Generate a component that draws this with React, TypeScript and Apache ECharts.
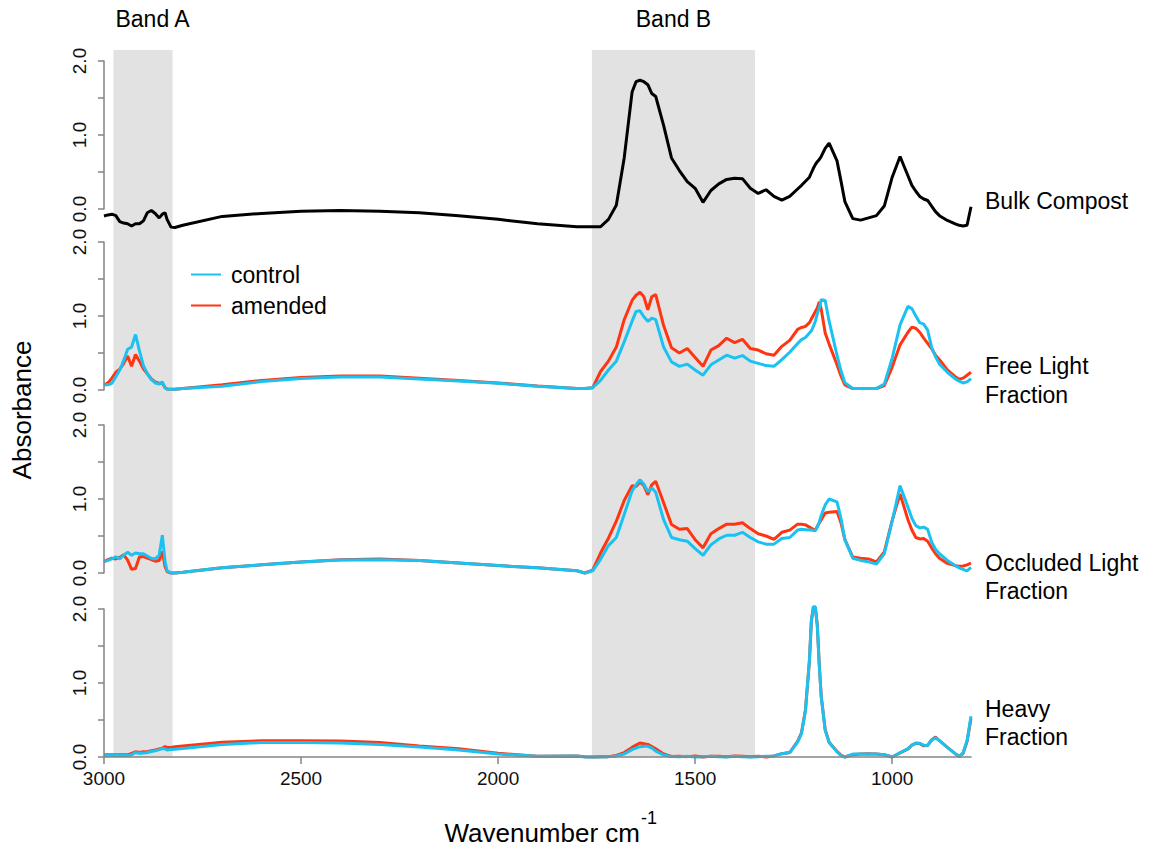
import React, { useEffect, useRef } from "react";
import * as echarts from "echarts";

// Shared wavenumber grid (cm-1), high to low
const WAVENUMBERS = [
  3000, 2990, 2980, 2970, 2960, 2950, 2940, 2930, 2920, 2910,
  2900, 2890, 2880, 2870, 2860, 2852, 2845, 2840, 2830, 2820,
  2800, 2700, 2600, 2500, 2400, 2300, 2200, 2100, 2000, 1900,
  1800, 1780, 1760, 1740, 1720, 1700, 1680, 1660, 1650, 1640,
  1630, 1620, 1610, 1600, 1580, 1560, 1540, 1520, 1500, 1480,
  1460, 1440, 1420, 1400, 1380, 1360, 1340, 1320, 1300, 1280,
  1260, 1240, 1230, 1220, 1210, 1205, 1200, 1195, 1190, 1185,
  1180, 1170, 1160, 1140, 1130, 1120, 1100, 1080, 1060, 1040,
  1020, 1000, 980, 960, 950, 940, 930, 920, 910, 900,
  890, 880, 860, 840, 830, 820, 810, 800,
];

const BULK_COMPOST = [
  -0.095, -0.08, -0.07, -0.09, -0.17, -0.19, -0.2, -0.23, -0.2, -0.2,
  -0.16, -0.05, -0.02, -0.06, -0.12, -0.07, -0.05, -0.14, -0.245, -0.25,
  -0.22, -0.1, -0.06, -0.03, -0.02, -0.03, -0.05, -0.09, -0.14, -0.2,
  -0.24, -0.24, -0.24, -0.24, -0.14, 0.05, 0.69, 1.58, 1.72, 1.74,
  1.72, 1.68, 1.56, 1.52, 1.13, 0.69, 0.52, 0.37, 0.28, 0.09,
  0.25, 0.34, 0.4, 0.415, 0.41, 0.28, 0.21, 0.26, 0.17, 0.12,
  0.17, 0.27, 0.32, 0.375, 0.43, 0.49, 0.55, 0.6, 0.64, 0.67,
  0.71, 0.82, 0.89, 0.65, 0.38, 0.1, -0.13, -0.15, -0.12, -0.09,
  0.04, 0.43, 0.71, 0.45, 0.32, 0.24, 0.17, 0.135, 0.115, 0.04,
  -0.035, -0.09, -0.155, -0.2, -0.22, -0.23, -0.22, 0.03,
];

const FREE_LIGHT_CONTROL = [
  0.07, 0.07, 0.09, 0.18, 0.27, 0.4, 0.55, 0.58, 0.75, 0.53,
  0.33, 0.22, 0.14, 0.095, 0.08, 0.11, 0.03, 0.015, 0.01, 0.01,
  0.02, 0.05, 0.115, 0.155, 0.175, 0.175, 0.15, 0.12, 0.09, 0.05,
  0.02, 0.02, 0.03, 0.13, 0.27, 0.39, 0.65, 0.93, 1.06, 1.07,
  0.99, 0.93, 0.97, 0.95, 0.58, 0.38, 0.32, 0.35, 0.27, 0.2,
  0.34, 0.405, 0.47, 0.43, 0.465, 0.39, 0.36, 0.33, 0.32, 0.41,
  0.51, 0.63, 0.68, 0.71, 0.77, 0.8, 0.86, 0.93, 1.03, 1.11,
  1.22, 1.21, 0.93, 0.47, 0.26, 0.1, 0.02, 0.02, 0.02, 0.02,
  0.08, 0.43, 0.88, 1.13, 1.1, 1.0, 0.91, 0.89, 0.81, 0.58,
  0.45, 0.35, 0.24, 0.15, 0.12, 0.095, 0.11, 0.155,
];

const FREE_LIGHT_AMENDED = [
  0.07, 0.095, 0.16, 0.24, 0.28, 0.36, 0.46, 0.32, 0.48, 0.39,
  0.285, 0.22, 0.15, 0.11, 0.09, 0.095, 0.03, 0.015, 0.01, 0.01,
  0.02, 0.07, 0.13, 0.17, 0.19, 0.19, 0.16, 0.13, 0.095, 0.055,
  0.02, 0.02, 0.03, 0.25, 0.39, 0.58, 0.95, 1.21, 1.28, 1.32,
  1.26, 1.085, 1.26, 1.29, 0.87, 0.57, 0.5, 0.56, 0.44, 0.32,
  0.54, 0.6, 0.7, 0.64, 0.685, 0.56, 0.54, 0.49, 0.47, 0.59,
  0.67, 0.82, 0.845, 0.86, 0.91, 0.96, 1.01, 1.06, 1.11, 1.19,
  1.09, 0.77, 0.62, 0.34, 0.19, 0.07, 0.02, 0.02, 0.02, 0.02,
  0.06, 0.31, 0.61, 0.78, 0.85, 0.835, 0.78, 0.7, 0.63, 0.56,
  0.47, 0.41, 0.27, 0.18, 0.145, 0.16, 0.2, 0.24,
];

const OCCLUDED_CONTROL = [
  0.155, 0.17, 0.19, 0.22, 0.19, 0.24, 0.28, 0.24, 0.27, 0.26,
  0.26, 0.23, 0.2, 0.19, 0.24, 0.51, 0.15, 0.03, 0.0, 0.0,
  0.01, 0.07, 0.11, 0.15, 0.175, 0.18, 0.17, 0.135, 0.1, 0.07,
  0.03, 0.0, 0.03, 0.185, 0.37, 0.48, 0.79, 1.11, 1.19, 1.26,
  1.2, 1.1, 1.15, 1.09, 0.72, 0.48, 0.45, 0.43, 0.33, 0.24,
  0.38, 0.46, 0.51, 0.51, 0.55, 0.48, 0.42, 0.39, 0.39, 0.465,
  0.48, 0.58, 0.59, 0.585, 0.58, 0.58, 0.575, 0.57, 0.62, 0.69,
  0.78, 0.92, 1.0, 0.96, 0.74, 0.45, 0.2, 0.17, 0.15, 0.12,
  0.26, 0.7, 1.18, 0.89, 0.74, 0.64, 0.61, 0.62, 0.59, 0.42,
  0.32, 0.26, 0.17, 0.1, 0.07, 0.05, 0.03, 0.077,
];

const OCCLUDED_AMENDED = [
  0.155, 0.18, 0.2, 0.19, 0.21, 0.245, 0.175, 0.05, 0.06, 0.22,
  0.22, 0.2, 0.18, 0.16, 0.17, 0.29, 0.085, 0.02, 0.0, 0.0,
  0.01, 0.07, 0.11, 0.15, 0.18, 0.19, 0.17, 0.135, 0.1, 0.07,
  0.03, 0.0, 0.04, 0.27, 0.47, 0.7, 0.98, 1.18, 1.17, 1.23,
  1.18, 1.06, 1.19, 1.24, 0.95, 0.655, 0.59, 0.6, 0.45, 0.34,
  0.53, 0.6, 0.66, 0.66, 0.68, 0.6, 0.53, 0.5, 0.455, 0.55,
  0.58, 0.66, 0.66, 0.65, 0.62, 0.605, 0.59, 0.58, 0.63, 0.675,
  0.72, 0.81, 0.82, 0.83, 0.68, 0.45, 0.215, 0.2, 0.19, 0.15,
  0.285, 0.71, 1.07, 0.72, 0.58, 0.48, 0.46, 0.465, 0.43, 0.34,
  0.26, 0.2, 0.13, 0.1, 0.09, 0.095, 0.11, 0.135,
];

const HEAVY_CONTROL = [
  0.02, 0.02, 0.02, 0.02, 0.02, 0.02, 0.02, 0.03, 0.06, 0.05,
  0.055, 0.06, 0.075, 0.085, 0.1, 0.115, 0.11, 0.095, 0.1, 0.105,
  0.115, 0.17, 0.195, 0.195, 0.19, 0.17, 0.135, 0.095, 0.04, 0.01,
  0.015, 0.0, 0.0, 0.0, 0.005, 0.015, 0.04, 0.1, 0.12, 0.14,
  0.145, 0.145, 0.12, 0.08, 0.027, 0.007, 0.005, 0.01, 0.0, 0.005,
  0.01, 0.005, 0.0, 0.01, 0.005, 0.0, 0.005, 0.01, 0.015, 0.045,
  0.06, 0.2, 0.32, 0.63, 1.31, 1.85, 2.03, 2.03, 1.77, 1.23,
  0.81, 0.36, 0.195, 0.07, 0.02, 0.0, 0.04, 0.04, 0.04, 0.04,
  0.03, 0.0, 0.057, 0.11, 0.16, 0.19, 0.185, 0.16, 0.155, 0.225,
  0.26, 0.22, 0.13, 0.045, 0.01, 0.057, 0.22, 0.55,
];

const HEAVY_AMENDED = [
  0.03, 0.03, 0.03, 0.03, 0.03, 0.03, 0.03, 0.05, 0.07, 0.06,
  0.07, 0.072, 0.085, 0.095, 0.11, 0.12, 0.14, 0.13, 0.13, 0.14,
  0.15, 0.2, 0.22, 0.22, 0.215, 0.195, 0.15, 0.11, 0.05, 0.01,
  0.015, 0.005, 0.0, 0.005, 0.005, 0.02, 0.06, 0.13, 0.16, 0.19,
  0.18, 0.17, 0.14, 0.11, 0.04, 0.007, 0.01, 0.005, 0.015, 0.0,
  0.01, 0.01, 0.005, 0.015, 0.01, 0.005, 0.01, 0.0, 0.015, 0.045,
  0.06, 0.21, 0.33, 0.64, 1.3, 1.84, 2.02, 2.02, 1.78, 1.25,
  0.82, 0.37, 0.2, 0.075, 0.025, 0.0, 0.03, 0.04, 0.045, 0.04,
  0.03, 0.0, 0.055, 0.11, 0.16, 0.185, 0.18, 0.15, 0.16, 0.23,
  0.27, 0.22, 0.13, 0.045, 0.005, 0.05, 0.21, 0.52,
];

const X_TICKS = [3000, 2500, 2000, 1500, 1000];
const X_MIN = 800;
const X_MAX = 3000;
const Y_MAX = 2;
const Y_STEP = 0.5;

const BANDS = [
  { label: "Band A", from: 2976, to: 2826 },
  { label: "Band B", from: 1762, to: 1348 },
];

const LEGEND_NAMES = ["control", "amended"];

const BLUE = "#19C2F0";
const RED = "#FF3512";
const BLACK = "#000000";
const AXIS_GRAY = "#858585";
const FONT = '"Liberation Sans", Arial, Helvetica, sans-serif';
const TICK_FONT_SIZE = 19;

// Panel layout (pixel positions of each stacked plot)
const PLOT_LEFT = 104;
const PLOT_WIDTH = 867;
const PANEL_HEIGHT = 148;
const PANEL_TOPS = [61, 242, 425, 609];

const PANELS = [
  {
    title: ["Bulk Compost"],
    titleY: [201],
    series: [{ name: "Bulk Compost", values: BULK_COMPOST, color: BLACK }],
  },
  {
    title: ["Free Light", "Fraction"],
    titleY: [366, 395],
    series: [
      { name: "amended", values: FREE_LIGHT_AMENDED, color: RED },
      { name: "control", values: FREE_LIGHT_CONTROL, color: BLUE },
    ],
  },
  {
    title: ["Occluded Light", "Fraction"],
    titleY: [563, 591],
    series: [
      { name: "amended", values: OCCLUDED_AMENDED, color: RED },
      { name: "control", values: OCCLUDED_CONTROL, color: BLUE },
    ],
  },
  {
    title: ["Heavy", "Fraction"],
    titleY: [709, 737],
    series: [
      { name: "amended", values: HEAVY_AMENDED, color: RED },
      { name: "control", values: HEAVY_CONTROL, color: BLUE },
    ],
  },
];

const pairs = (values: number[]) => WAVENUMBERS.map((w, i) => [w, values[i]]);

function buildOption() {
  const bandTop = 50;
  const lastBottom = PANEL_TOPS[PANEL_TOPS.length - 1] + PANEL_HEIGHT;

  const grid: any[] = [
    { left: PLOT_LEFT, width: PLOT_WIDTH, top: bandTop, height: lastBottom - bandTop },
    ...PANEL_TOPS.map((top) => ({ left: PLOT_LEFT, width: PLOT_WIDTH, top, height: PANEL_HEIGHT })),
  ];

  const xAxis: any[] = grid.map((_, gi) => {
    const isBottom = gi === PANEL_TOPS.length;
    return {
      type: "value",
      gridIndex: gi,
      min: X_MIN,
      max: X_MAX,
      inverse: true,
      show: isBottom,
      z: 5,
      splitLine: { show: false },
      axisLine: { show: isBottom, onZero: false, lineStyle: { color: AXIS_GRAY, width: 1.5 } },
      axisTick: {
        show: isBottom,
        length: 7,
        customValues: X_TICKS,
        lineStyle: { color: AXIS_GRAY, width: 1.5 },
      },
      axisLabel: {
        show: isBottom,
        customValues: X_TICKS,
        fontSize: TICK_FONT_SIZE,
        fontFamily: FONT,
        color: "#111",
        margin: 12,
        formatter: (v: number) => String(v),
      },
    };
  });

  const yAxis: any[] = grid.map((_, gi) => {
    if (gi === 0) {
      return { type: "value", gridIndex: 0, min: 0, max: 1, show: false };
    }
    return {
      type: "value",
      gridIndex: gi,
      min: 0,
      max: Y_MAX,
      interval: Y_STEP,
      z: 5,
      splitLine: { show: false },
      axisLine: { show: true, lineStyle: { color: AXIS_GRAY, width: 1.5 } },
      axisTick: { show: true, length: 6, lineStyle: { color: AXIS_GRAY, width: 1.5 } },
      axisLabel: {
        rotate: 90,
        margin: 15,
        fontSize: TICK_FONT_SIZE,
        fontFamily: FONT,
        color: "#111",
        formatter: (v: number) => (Math.abs(v - Math.round(v)) < 1e-9 ? v.toFixed(1) : ""),
      },
    };
  });

  const series: any[] = [
    {
      type: "line",
      name: "bands",
      xAxisIndex: 0,
      yAxisIndex: 0,
      data: [
        [X_MIN, 0],
        [X_MAX, 0],
      ],
      symbol: "none",
      lineStyle: { opacity: 0, width: 0 },
      silent: true,
      z: 1,
      markArea: {
        silent: true,
        itemStyle: { color: "#E2E2E2" },
        data: BANDS.map((b, i) => [
          {
            xAxis: b.from,
            name: b.label,
            label:
              i === 0
                ? { show: true, position: "insideTopLeft", offset: [-3, -48] }
                : { show: true, position: "top", distance: 20 },
          },
          { xAxis: b.to },
        ]),
        label: { fontSize: 23, fontFamily: FONT, color: "#000" },
      },
    },
  ];

  PANELS.forEach((panel, pi) => {
    panel.series.forEach((s) => {
      series.push({
        type: "line",
        name: s.name,
        xAxisIndex: pi + 1,
        yAxisIndex: pi + 1,
        data: pairs(s.values),
        symbol: "none",
        clip: false,
        z: 3,
        color: s.color,
        lineStyle: { color: s.color, width: 3 },
      });
    });
  });

  const graphic: any[] = [
    {
      type: "text",
      x: 22,
      y: 410,
      rotation: Math.PI / 2,
      style: {
        text: "Absorbance",
        fontSize: 26,
        fontFamily: FONT,
        fill: "#000",
        align: "center",
        verticalAlign: "middle",
      },
    },
    {
      type: "text",
      x: 640,
      y: 833,
      style: {
        text: "Wavenumber cm",
        fontSize: 26,
        fontFamily: FONT,
        fill: "#000",
        align: "right",
        verticalAlign: "middle",
      },
    },
    {
      type: "text",
      x: 641,
      y: 818,
      style: {
        text: "-1",
        fontSize: 18,
        fontFamily: FONT,
        fill: "#000",
        align: "left",
        verticalAlign: "middle",
      },
    },
  ];

  PANELS.forEach((panel) => {
    panel.title.forEach((line, li) => {
      graphic.push({
        type: "text",
        x: 985,
        y: panel.titleY[li],
        style: {
          text: line,
          fontSize: 23,
          fontFamily: FONT,
          fill: "#000",
          align: "left",
          verticalAlign: "middle",
        },
      });
    });
  });

  return {
    animation: false,
    backgroundColor: "#ffffff",
    grid,
    xAxis,
    yAxis,
    series,
    graphic,
    legend: {
      data: LEGEND_NAMES,
      orient: "vertical",
      left: 186,
      top: 258,
      icon: "rect",
      itemWidth: 30,
      itemHeight: 2,
      itemGap: 8,
      selectedMode: false,
      textStyle: { fontSize: 23, fontFamily: FONT, color: "#000", padding: [0, 0, 0, 5] },
    },
  };
}

export default function App() {
  const ref = useRef<HTMLDivElement>(null);

  useEffect(() => {
    if (!ref.current) return;
    const chart = echarts.init(ref.current, undefined, { renderer: "svg" });
    chart.setOption(buildOption());
    return () => chart.dispose();
  }, []);

  return (
    <div
      ref={ref}
      style={{ position: "absolute", left: 0, top: 0, width: 1156, height: 851, background: "#fff" }}
    />
  );
}
